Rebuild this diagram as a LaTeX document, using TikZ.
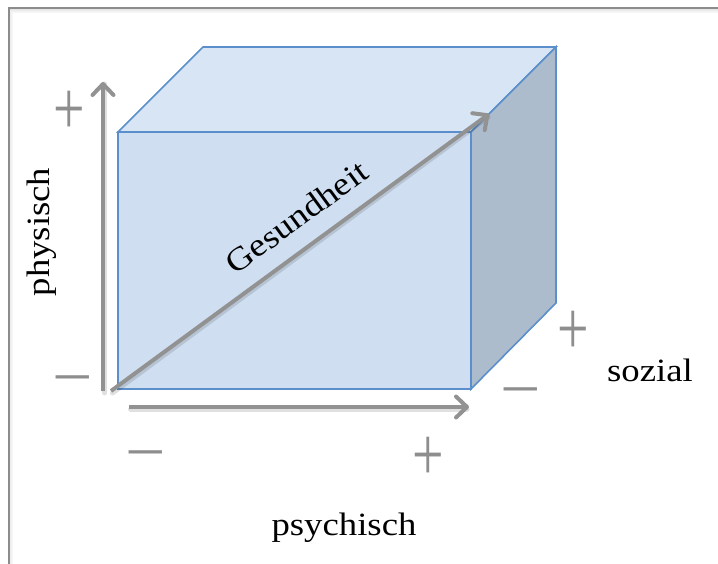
\documentclass[tikz,border=0pt]{standalone}
\usepackage{fontspec}
\setmainfont{Liberation Serif}
\usetikzlibrary{arrows.meta}
\definecolor{edgeblue}{HTML}{5B8FCB}
\definecolor{frontblue}{HTML}{CFDFF1}
\definecolor{topblue}{HTML}{D8E5F4}
\definecolor{sidegray}{HTML}{ADBCCD}
\definecolor{axisgray}{HTML}{929292}
\definecolor{signgray}{HTML}{8E8E8E}
\definecolor{framegray}{HTML}{8C8C8C}
\newcommand\wide[1]{\scalebox{1.13}[1]{#1}}
\newcommand\plussign{\scalebox{0.86}[1.18]{+}}
\begin{document}
\begin{tikzpicture}[x=1pt,y=-1pt,
  face/.style={draw=edgeblue, line width=1.6pt, line join=miter},
  axisarrow/.style={draw=axisgray, line width=4pt,
    -{Straight Barb[length=11pt,width=21pt,round]}},
  axisshadow/.style={draw=black, opacity=0.12, line width=5pt, line cap=round},
  lbl/.style={inner sep=0pt, font=\fontsize{32.5}{36}\selectfont},
  sign/.style={inner sep=0pt, text=signgray, font=\fontsize{65}{65}\selectfont}]
\useasboundingbox (0,0) rectangle (718,564);
\fill[white] (0,0) rectangle (718,564);
% frame
\coordinate (fbl) at (8.5,564);
\coordinate (ftl) at (8.5,8.5);
\coordinate (ftr) at (718,8.5);
\foreach \k/\o in {1/0.10,2/0.07,3/0.05,4/0.03}
  \draw[black, opacity=\o, line width=1pt] (8.5+\k,564) -- (8.5+\k,8.5+\k) -- (718,8.5+\k);
\draw[framegray, line width=2pt] (fbl) -- (ftl) -- (ftr);
% cube corners
\coordinate (F1) at (118,389);
\coordinate (F2) at (471,389);
\coordinate (F3) at (471,132);
\coordinate (F4) at (118,132);
\coordinate (B2) at (556,303);
\coordinate (B3) at (556,47);
\coordinate (B4) at (203,47);
\path[face, fill=topblue] (F4) -- (F3) -- (B3) -- (B4) -- cycle;
\path[face, fill=sidegray] (F3) -- (F2) -- (B2) -- (B3) -- cycle;
\path[face, fill=frontblue] (F1) -- (F2) -- (F3) -- (F4) -- cycle;
% axes
\coordinate (va0) at (103,391);
\coordinate (va1) at (103,82);
\coordinate (ha0) at (129,407);
\coordinate (ha1) at (469,407);
\coordinate (da0) at (111,391);
\coordinate (da1) at (489,114);
\draw[axisshadow] ([shift={(1.5,2)}]va0) -- ([shift={(1.5,2)}]va1);
\draw[axisshadow] ([shift={(1.5,2)}]ha0) -- ([shift={(-2,2)}]ha1);
\draw[axisshadow] ([shift={(1.5,2)}]da0) -- ([shift={(-1,3)}]da1);
\draw[axisarrow] (va0) -- (va1);
\draw[axisarrow] (ha0) -- (ha1);
\draw[axisarrow] (da0) -- (da1);
% labels
\node[lbl, rotate=90] (phys) at (42,232) {\wide{physisch}};
\node[lbl, anchor=base] (psych) at (344,535) {\wide{psychisch}};
\node[lbl, anchor=base west] (soz) at (607,381) {\wide{sozial}};
\node[lbl, rotate=36.23, anchor=base] (ges) at (303,226) {\wide{Gesundheit}};
% signs
\node[sign, anchor=north] (p1) at (69,90.5) {\plussign};
\node[sign, anchor=north] (p2) at (573,310.5) {\plussign};
\node[sign, anchor=north] (p3) at (428,436.5) {\plussign};
\node[sign, anchor=north] (m1) at (73,375.7) {–};
\node[sign, anchor=north] (m2) at (146,450.7) {–};
\node[sign, anchor=north] (m3) at (521,387.7) {–};
\end{tikzpicture}
\end{document}
